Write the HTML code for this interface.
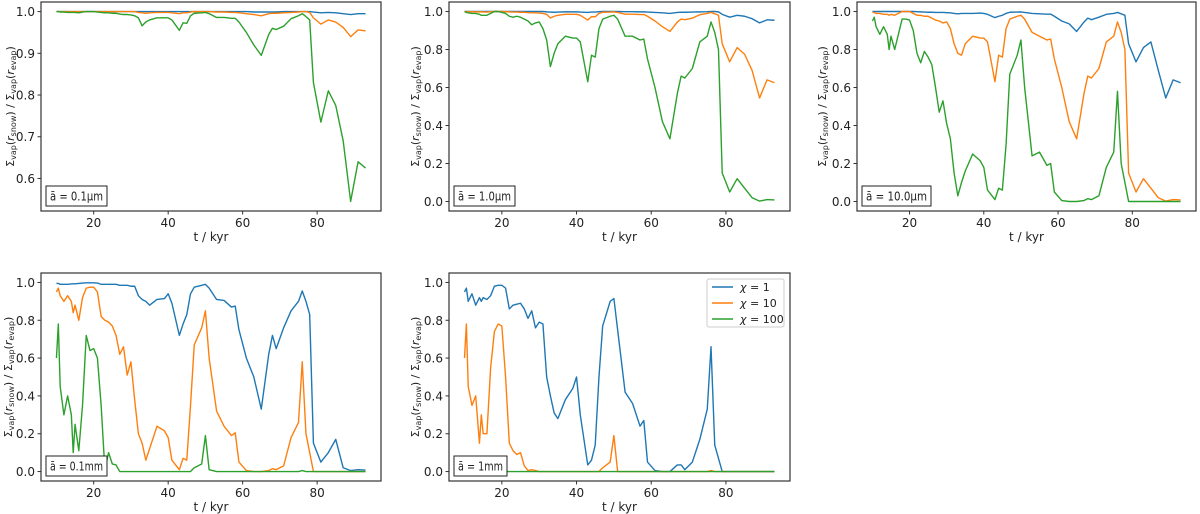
<!DOCTYPE html>
<html><head><meta charset="utf-8"><style>
body{margin:0;background:#fff;}
svg{display:block;font-family:"DejaVu Sans","Liberation Sans",sans-serif;}
</style></head><body>
<svg id="fig" width="1200" height="514" viewBox="0 0 1200 514" xmlns="http://www.w3.org/2000/svg"></svg>
<script>
const times=[10,10.5,11,12,13,14,14.5,15,16,17,18,19,20,21,22,23,24,25,26,27,28,29,30,31,32,33,34,35,37,39,40,41,43,44,45,46,47,49,50,51,53,55,57,58,59,61,63,65,67,68,69,71,73,75,76,77,78,79,81,83,85,87,89,91,93];
const p1Chi1=[1,1,1,1,1,1,1,1,1,1,1,1,1,1,1,1,1,1,1,1,1,1,1,1,1,1,1,1,1,1,1,1,1,1,1,1,1,1,1,1,1,1,1,1,1,1,0.999,0.999,0.999,0.999,0.999,1,1,1,1,1,1,0.999,0.997,0.998,0.997,0.995,0.993,0.995,0.995];
const p1Chi10=[1,1,1,1,1,1,1,1,1,1,1,1,1,1,1,1,1,1,1,1,1,1,1,1,0.998,0.997,0.996,0.997,0.998,0.998,0.998,0.997,0.995,0.997,0.997,0.999,1,1,1,1,0.999,0.999,0.998,0.998,0.997,0.995,0.993,0.99,0.995,0.996,0.996,0.997,0.998,0.999,1,1,0.998,0.985,0.97,0.98,0.975,0.962,0.94,0.956,0.954];
const p1Chi100=[1,1,0.999,0.999,0.998,0.998,0.998,0.998,0.997,0.999,1,1,1,0.999,0.998,0.997,0.997,0.996,0.996,0.994,0.993,0.993,0.992,0.99,0.985,0.966,0.975,0.98,0.985,0.985,0.985,0.98,0.955,0.973,0.972,0.99,0.996,0.997,0.998,0.995,0.986,0.986,0.984,0.984,0.975,0.95,0.92,0.895,0.945,0.96,0.957,0.965,0.983,0.99,0.995,0.988,0.98,0.83,0.735,0.81,0.775,0.69,0.545,0.64,0.625];
const p2Chi1=[1,1,1,1,1,1,1,1,1,1,1,1,1,1,1,1,1,1,1,1,1,1,1,1,0.998,0.997,0.996,0.997,0.998,0.998,0.998,0.997,0.995,0.997,0.997,0.999,1,1,1,1,0.999,0.999,0.998,0.998,0.997,0.995,0.993,0.99,0.995,0.996,0.996,0.997,0.998,0.999,1,1,0.998,0.985,0.97,0.98,0.975,0.962,0.94,0.956,0.954];
const p2Chi10=[1,1,0.999,0.999,0.998,0.998,0.998,0.998,0.997,0.999,1,1,1,0.999,0.998,0.997,0.997,0.996,0.996,0.994,0.993,0.993,0.992,0.99,0.985,0.966,0.975,0.98,0.985,0.985,0.985,0.98,0.955,0.973,0.972,0.99,0.996,0.997,0.998,0.995,0.986,0.986,0.984,0.984,0.975,0.95,0.92,0.895,0.945,0.96,0.957,0.965,0.983,0.99,0.995,0.988,0.98,0.83,0.735,0.81,0.775,0.69,0.545,0.64,0.625];
const p2Chi100=[1,0.995,0.993,0.99,0.99,0.985,0.98,0.98,0.98,0.99,1,1,0.995,0.99,0.975,0.97,0.975,0.97,0.96,0.95,0.93,0.94,0.945,0.91,0.85,0.71,0.78,0.83,0.87,0.86,0.86,0.84,0.63,0.77,0.76,0.91,0.96,0.975,0.98,0.96,0.87,0.87,0.85,0.855,0.75,0.6,0.42,0.33,0.57,0.66,0.65,0.7,0.84,0.87,0.945,0.89,0.8,0.15,0.05,0.12,0.07,0.02,0.002,0.01,0.008];
const p3Chi1=[1,1,1,1,1,1,1,1,1,1,1,1,1,1,0.999,0.998,0.997,0.996,0.996,0.995,0.995,0.995,0.994,0.993,0.99,0.988,0.99,0.99,0.99,0.992,0.99,0.985,0.968,0.975,0.98,0.99,0.996,0.997,0.998,0.995,0.99,0.988,0.986,0.986,0.975,0.95,0.935,0.895,0.945,0.965,0.957,0.97,0.985,0.99,0.995,0.988,0.98,0.83,0.735,0.81,0.84,0.69,0.545,0.64,0.625];
const p3Chi10=[0.995,0.995,0.99,0.99,0.985,0.985,0.98,0.985,0.98,0.99,1,1,1,0.99,0.98,0.98,0.975,0.975,0.965,0.955,0.95,0.94,0.945,0.91,0.83,0.78,0.77,0.83,0.87,0.86,0.86,0.84,0.63,0.77,0.76,0.91,0.96,0.975,0.98,0.96,0.89,0.87,0.85,0.855,0.75,0.6,0.42,0.33,0.57,0.66,0.65,0.7,0.84,0.87,0.945,0.89,0.8,0.15,0.05,0.12,0.07,0.02,0.002,0.01,0.008];
const p3Chi100=[0.95,0.97,0.92,0.88,0.92,0.88,0.8,0.87,0.8,0.88,0.96,0.96,0.955,0.9,0.78,0.73,0.79,0.76,0.72,0.6,0.47,0.53,0.41,0.33,0.15,0.03,0.1,0.16,0.25,0.215,0.18,0.06,0.01,0.07,0.06,0.3,0.67,0.77,0.85,0.6,0.24,0.26,0.19,0.2,0.05,0.005,0,0,0.005,0.015,0.01,0.03,0.18,0.26,0.58,0.2,0.1,0,0,0,0,0,0,0,0];
const p4Chi1=[0.995,0.995,0.99,0.99,0.99,0.992,0.993,0.993,0.995,0.997,0.998,0.998,0.998,0.997,0.99,0.99,0.99,0.99,0.99,0.985,0.985,0.985,0.98,0.98,0.93,0.91,0.9,0.88,0.91,0.915,0.94,0.89,0.72,0.78,0.83,0.94,0.975,0.985,0.99,0.97,0.91,0.905,0.87,0.875,0.75,0.6,0.5,0.33,0.62,0.72,0.65,0.76,0.85,0.9,0.955,0.9,0.83,0.15,0.05,0.1,0.17,0.02,0.005,0.01,0.008];
const p4Chi10=[0.95,0.97,0.93,0.9,0.93,0.9,0.84,0.88,0.8,0.92,0.97,0.975,0.975,0.95,0.82,0.8,0.79,0.77,0.72,0.62,0.66,0.51,0.58,0.38,0.2,0.15,0.06,0.12,0.24,0.215,0.18,0.06,0.01,0.07,0.06,0.35,0.67,0.76,0.85,0.6,0.32,0.24,0.19,0.205,0.05,0.005,0,0,0.005,0.015,0.01,0.03,0.18,0.26,0.58,0.2,0.1,0,0,0,0,0,0,0,0];
const p4Chi100=[0.6,0.78,0.45,0.3,0.4,0.3,0.1,0.25,0.11,0.35,0.72,0.64,0.65,0.6,0.35,0.01,0.1,0.04,0.035,0,0,0,0,0,0,0,0,0,0,0,0,0,0,0,0,0,0.02,0.04,0.19,0.01,0,0,0,0,0,0,0,0,0,0,0,0,0,0,0.005,0,0,0,0,0,0,0,0,0,0];
const p5Chi1=[0.95,0.97,0.9,0.94,0.88,0.92,0.9,0.92,0.91,0.93,0.98,0.985,0.985,0.97,0.86,0.88,0.885,0.89,0.86,0.81,0.85,0.76,0.79,0.78,0.5,0.4,0.31,0.28,0.38,0.44,0.5,0.3,0.035,0.06,0.14,0.5,0.77,0.9,0.915,0.75,0.42,0.36,0.24,0.27,0.05,0.005,0,0,0.035,0.035,0.01,0.05,0.17,0.33,0.66,0.14,0.07,0,0,0,0,0,0,0,0];
const p5Chi10=[0.6,0.78,0.45,0.35,0.4,0.15,0.3,0.2,0.2,0.55,0.74,0.78,0.77,0.5,0.15,0.11,0.09,0.1,0.03,0.005,0.01,0.005,0,0,0,0,0,0,0,0,0,0,0,0,0,0,0.02,0.05,0.19,0,0,0,0,0,0,0,0,0,0,0,0,0,0,0,0.005,0,0,0,0,0,0,0,0,0,0];
const p5Chi100=[0,0,0,0,0,0,0,0,0,0,0,0,0,0,0,0,0,0,0,0,0,0,0,0,0,0,0,0,0,0,0,0,0,0,0,0,0,0,0,0,0,0,0,0,0,0,0,0,0,0,0,0,0,0,0,0,0,0,0,0,0,0,0,0,0];
const xTicks=[20,40,60,80];
const yTicksTop1=[0.6,0.7,0.8,0.9,1.0];
const yTicksStd=[0,0.2,0.4,0.6,0.8,1.0];
const seriesNames=["χ = 1","χ = 10","χ = 100"];
const colors=["#1f77b4","#ff7f0e","#2ca02c"];

const NS="http://www.w3.org/2000/svg";
const fig=document.getElementById('fig');
function mk(tag,attrs,parent){const e=document.createElementNS(NS,tag);for(const k in attrs)e.setAttribute(k,attrs[k]);(parent||fig).appendChild(e);return e;}

const panels=[
 {id:'p1',box:[41,2,381,211],ylim:[0.522,1.023],yt:yTicksTop1,dec:1,label:'ā = 0.1μm',lw:61,s:[p1Chi1,p1Chi10,p1Chi100],ylx:9},
 {id:'p2',box:[449,2,790,211],ylim:[-0.05,1.05],yt:yTicksStd,dec:1,label:'ā = 1.0μm',lw:61,s:[p2Chi1,p2Chi10,p2Chi100],ylx:414},
 {id:'p3',box:[857,2,1196,211],ylim:[-0.05,1.05],yt:yTicksStd,dec:1,label:'ā = 10.0μm',lw:69,s:[p3Chi1,p3Chi10,p3Chi100],ylx:821},
 {id:'p4',box:[41,273,381,481],ylim:[-0.05,1.05],yt:yTicksStd,dec:1,label:'ā = 0.1mm',lw:61,s:[p4Chi1,p4Chi10,p4Chi100],ylx:7},
 {id:'p5',box:[449,273,790,481],ylim:[-0.05,1.05],yt:yTicksStd,dec:1,label:'ā = 1mm',lw:53,s:[p5Chi1,p5Chi10,p5Chi100],ylx:414,legend:true}
];
const xlim=[5.85,97.15];

panels.forEach(p=>{
 const [L,T,R,B]=p.box;
 const g=mk('g',{});
 
 
 const xs=t=>L+(t-xlim[0])/(xlim[1]-xlim[0])*(R-L);
 const ys=v=>B-(v-p.ylim[0])/(p.ylim[1]-p.ylim[0])*(B-T);
 p.s.forEach((arr,i)=>{
  const pts=arr.map((v,j)=>xs(times[j]).toFixed(2)+','+ys(v).toFixed(2)).join(' ');
  const pl=mk('polyline',{points:pts,fill:'none',stroke:colors[i],'stroke-width':1.4,'stroke-linejoin':'round'},g);
  
  
 });
 const fr=mk('rect',{x:L,y:T,width:R-L,height:B-T,fill:'none',stroke:'#333','stroke-width':1.2},g);
 
 
 xTicks.forEach(t=>{
  const x=xs(t);
  mk('line',{x1:x,y1:B,x2:x,y2:B+3.5,stroke:'#333','stroke-width':1},g);
  const tx=mk('text',{x:x,y:B+16,'font-size':12,'text-anchor':'middle',fill:'#222'},g);
  tx.textContent=t;
  
  
 });
 const xl=mk('text',{x:(L+R)/2,y:B+30,'font-size':12,'text-anchor':'middle',fill:'#222'},g);
 xl.textContent='t / kyr';
 
 
 p.yt.forEach(v=>{
  const y=ys(v);
  mk('line',{x1:L-3.5,y1:y,x2:L,y2:y,stroke:'#333','stroke-width':1},g);
  const tx=mk('text',{x:L-6,y:y+4.5,'font-size':12,'text-anchor':'end',fill:'#222'},g);
  tx.textContent=v.toFixed(p.dec);
  
  
 });
 const cy=(T+B)/2;
 const yl=mk('text',{x:0,y:0,'font-size':11,'text-anchor':'middle',fill:'#222',transform:`translate(${p.ylx+5},${cy}) rotate(-90)`},g);
 
 
 yl.innerHTML='Σ<tspan font-size="8" dy="2">vap</tspan><tspan dy="-2">(</tspan><tspan font-style="italic">r</tspan><tspan font-size="8" dy="2">snow</tspan><tspan dy="-2">) / Σ</tspan><tspan font-size="8" dy="2">vap</tspan><tspan dy="-2">(</tspan><tspan font-style="italic">r</tspan><tspan font-size="8" dy="2">evap</tspan><tspan dy="-2">)</tspan>';
 const ab=mk('rect',{x:L+5,y:B-25,width:p.lw,height:20,fill:'#fff',stroke:'#222','stroke-width':1},g);
 
 
 const at=mk('text',{x:L+5+p.lw/2,y:B-10.5,'font-size':12,'text-anchor':'middle',fill:'#222','textLength':p.lw-8,'lengthAdjust':'spacingAndGlyphs'},g);
 at.textContent=p.label;
 
 
 if(p.legend){
  const lg=mk('rect',{x:707,y:279,width:77,height:48,fill:'#fff',stroke:'#ccc','stroke-width':1,rx:2},g);
  
  
  seriesNames.forEach((n,i)=>{
   const y=287+i*16;
   const ln=mk('line',{x1:712,y1:y,x2:733,y2:y,stroke:colors[i],'stroke-width':1.4},g);
   
   
   const lt=mk('text',{x:740,y:y+4,'font-size':11,fill:'#222'},g);
   lt.innerHTML='<tspan font-style="italic">χ</tspan>'+n.slice(1);
   
   
  });
 }
});
</script>
</body></html>
